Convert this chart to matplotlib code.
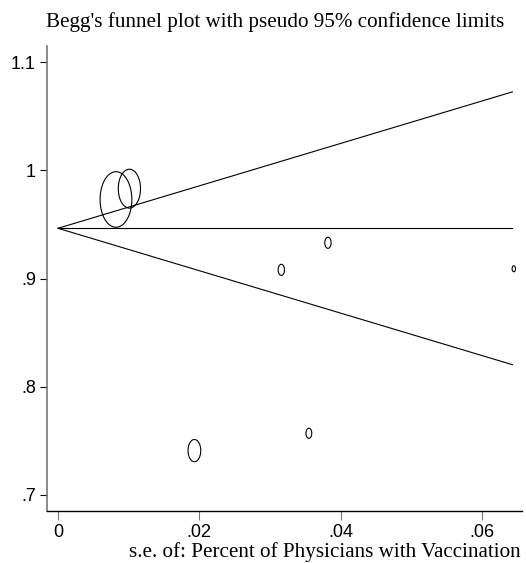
import numpy as np
import matplotlib
matplotlib.use("Agg")
import matplotlib.pyplot as plt
from matplotlib.path import Path

# study data: standard error, effect estimate, marker height (pt)
se = [0.0082, 0.0101, 0.0316, 0.0382, 0.0645, 0.0193, 0.0355]
effect = [0.973, 0.983, 0.908, 0.933, 0.909, 0.741, 0.757]
msize = [40, 28, 8, 8, 4.3, 16, 7.3]

pooled = 0.9464
se_max = 0.0643

xticks = [0, 0.02, 0.04, 0.06]
xtick_labels = ["0", ".02", ".04", ".06"]
yticks = [0.7, 0.8, 0.9, 1.0, 1.1]
ytick_labels = [".7", ".8", ".9", "1", "1.1"]

# Stata draws the weighted circles a bit taller than wide
t = np.linspace(0, 2 * np.pi, 80)
ellipse = Path(np.column_stack([np.cos(t) / 1.75, np.sin(t)]), closed=True)

fig = plt.figure(figsize=(5.26, 5.63), dpi=100)
ax = fig.add_axes([47 / 526, 52 / 563, 475 / 526, 465 / 563])

s = np.linspace(0, se_max, 50)
ax.plot(s, pooled + 1.96 * s, color="black", lw=0.8)
ax.plot(s, pooled - 1.96 * s, color="black", lw=0.8)
ax.plot([0, se_max], [pooled, pooled], color="black", lw=0.8)

ax.scatter(se, effect, s=np.array(msize) ** 2, marker=ellipse,
           facecolors="none", edgecolors="black", linewidths=0.8, zorder=3)

ax.set_xlim(-0.00156, 0.06566)
ax.set_ylim(0.6852, 1.1148)
ax.set_xticks(xticks)
ax.set_xticklabels(xtick_labels)
ax.set_yticks(yticks)
ax.set_yticklabels(ytick_labels)

for sp in ["top", "right"]:
    ax.spines[sp].set_visible(False)
ax.spines["left"].set_color("#777777")
ax.spines["left"].set_linewidth(1.2)
ax.spines["bottom"].set_color("black")
ax.spines["bottom"].set_linewidth(1.0)

ax.tick_params(axis="y", length=5, width=0.8, color="black", pad=3,
               labelsize=13, labelfontfamily="Liberation Sans")
ax.tick_params(axis="x", length=6.5, width=0.8, color="#777777", pad=3,
               labelsize=13, labelfontfamily="Liberation Sans")

fig.text(275 / 526, 1 - 22 / 563, "Begg's funnel plot with pseudo 95% confidence limits",
         ha="center", va="center", fontsize=15.2, family="Liberation Serif")
fig.text(521 / 526, 1 - 552 / 563, "s.e. of: Percent of Physicians with Vaccination",
         ha="right", va="center", fontsize=15.2, family="Liberation Serif")

fig.savefig("out.png", dpi=100, facecolor="white")
